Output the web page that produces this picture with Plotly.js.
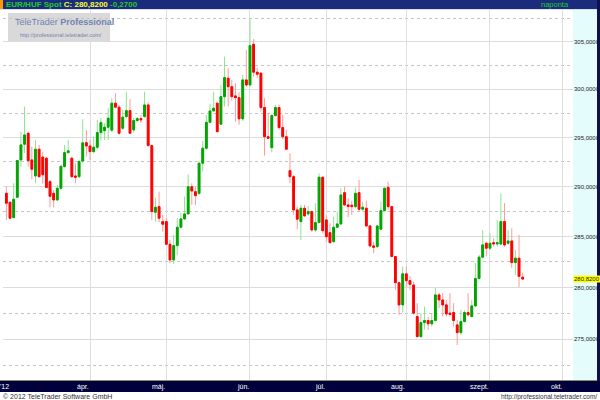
<!DOCTYPE html>
<html><head><meta charset="utf-8">
<script src="https://cdn.plot.ly/plotly-3.0.1.min.js"></script>
<style>html,body{margin:0;padding:0;background:#fff;}#chart{width:600px;height:400px;}</style>
</head><body><div id="chart"></div>
<script>
const dates = ['2012-02-29',
'2012-03-01','2012-03-02','2012-03-05','2012-03-06','2012-03-07','2012-03-08','2012-03-09','2012-03-12','2012-03-13','2012-03-14','2012-03-15','2012-03-16','2012-03-19','2012-03-20','2012-03-21','2012-03-22','2012-03-23','2012-03-26','2012-03-27','2012-03-28','2012-03-29','2012-03-30',
'2012-04-02','2012-04-03','2012-04-04','2012-04-05','2012-04-06','2012-04-09','2012-04-10','2012-04-11','2012-04-12','2012-04-13','2012-04-16','2012-04-17','2012-04-18','2012-04-19','2012-04-20','2012-04-23','2012-04-24','2012-04-25','2012-04-26','2012-04-27','2012-04-30',
'2012-05-01','2012-05-02','2012-05-03','2012-05-04','2012-05-07','2012-05-08','2012-05-09','2012-05-10','2012-05-11','2012-05-14','2012-05-15','2012-05-16','2012-05-17','2012-05-18','2012-05-21','2012-05-22','2012-05-23','2012-05-24','2012-05-25','2012-05-28','2012-05-29','2012-05-30','2012-05-31',
'2012-06-01','2012-06-04','2012-06-05','2012-06-06','2012-06-07','2012-06-08','2012-06-11','2012-06-12','2012-06-13','2012-06-14','2012-06-15','2012-06-18','2012-06-19','2012-06-20','2012-06-21','2012-06-22','2012-06-25','2012-06-26','2012-06-27','2012-06-28','2012-06-29',
'2012-07-02','2012-07-03','2012-07-04','2012-07-05','2012-07-06','2012-07-09','2012-07-10','2012-07-11','2012-07-12','2012-07-13','2012-07-16','2012-07-17','2012-07-18','2012-07-19','2012-07-20','2012-07-23','2012-07-24','2012-07-25','2012-07-26','2012-07-27','2012-07-30','2012-07-31',
'2012-08-01','2012-08-02','2012-08-03','2012-08-06','2012-08-07','2012-08-08','2012-08-09','2012-08-10','2012-08-13','2012-08-14','2012-08-15','2012-08-16','2012-08-17','2012-08-20','2012-08-21','2012-08-22','2012-08-23','2012-08-24','2012-08-27','2012-08-28','2012-08-29','2012-08-30','2012-08-31',
'2012-09-03','2012-09-04','2012-09-05','2012-09-06','2012-09-07','2012-09-10','2012-09-11','2012-09-12','2012-09-13','2012-09-14'];

const openP = [289.33,
288.43,286.89,288.93,292.71,294.31,295.43,292.71,291.08,293.80,293.0,292.88,290.5,289.33,288.66,289.83,292.03,293.45,292.88,291.08,291.01,292.6,294.47,
294.13,293.55,294.0,295.5,295.7,296.06,295.75,298.54,298.13,295.95,297.15,297.77,295.78,296.74,296.95,297.15,298.36,294.17,287.43,287.99,286.49,
286.49,284.24,282.7,284.11,285.93,286.76,287.26,289.99,289.49,289.33,292.37,293.9,296.56,297.74,298.54,296.37,299.22,301.15,300.26,299.3,299.12,296.92,300.97,
300.44,304.73,301.78,301.67,298.09,295.08,293.96,297.26,298.09,296.02,295.08,291.62,291.01,287.66,286.49,287.83,287.26,287.49,285.66,286.39,290.95,
286.66,285.39,284.5,285.93,286.26,289.39,288.16,288.13,287.99,289.39,287.73,287.83,286.06,284.08,284.01,285.73,287.59,289.93,287.99,283.03,280.47,278.31,
281.33,280.67,280.24,277.18,275.25,276.6,276.8,276.48,276.8,279.28,278.79,278.31,277.51,277.57,276.38,275.64,276.7,277.57,277.18,278.21,280.88,282.97,284.34,
283.85,284.4,284.27,284.27,286.49,284.34,284.57,282.44,282.87,281.0];

const highP = [289.99,
288.49,290.34,292.71,295.60,298.19,295.60,294.06,294.75,294.24,293.5,293.05,290.67,289.66,290.16,292.2,294.24,294.75,293.05,292.37,292.71,296.88,295.76,
294.75,295.08,296.81,296.99,296.47,298.02,299.06,299.58,298.36,297.85,299.74,298.95,296.99,297.1,297.32,299.74,298.64,294.24,288.89,289.49,287.16,
286.86,284.67,285.16,286.83,287.36,288.99,291.23,290.34,289.99,292.54,294.64,297.33,298.44,299.74,298.64,300.44,303.42,302.2,300.97,300.62,299.68,301.49,304.13,
307.5,305.28,302.2,301.78,299.06,297.42,297.4,298.36,298.36,297.33,295.78,293.39,291.18,287.99,288.16,288.16,288.06,287.59,288.33,291.35,291.01,
287.16,286.33,286.99,287.49,289.83,289.99,288.83,288.59,289.93,290.67,288.49,288.59,286.16,284.5,286.16,288.49,289.93,290.5,288.06,283.09,280.57,282.04,
282.04,281.13,280.57,278.48,277.51,278.15,277.18,277.51,279.92,279.5,279.44,278.79,279.44,278.48,276.86,277.83,277.77,279.44,278.79,282.38,283.19,285.65,284.5,
285.33,284.83,286.66,289.33,288.33,285.65,285.82,283.69,285.16,281.45];

const lowP = [286.66,
286.73,286.83,288.83,292.03,293.39,292.03,290.74,290.34,290.91,290.3,289.83,287.93,287.93,288.56,289.66,291.9,293.39,290.84,290.34,290.86,292.4,293.05,
292.71,293.39,293.8,294.67,294.75,294.75,295.58,298.02,295.27,295.78,296.99,295.58,295.5,296.64,296.47,297.05,294.06,286.66,286.49,286.43,285.49,
284.18,282.38,282.28,283.19,285.83,286.66,287.23,288.16,288.16,289.16,291.52,293.73,296.47,297.67,295.54,296.29,298.19,298.19,298.78,296.64,296.29,296.71,300.27,
300.27,301.31,301.2,297.67,293.15,294.85,293.49,297.15,295.78,294.85,293.7,290.34,287.16,285.73,284.67,286.99,287.06,285.49,285.49,286.33,285.33,
284.5,284.34,284.4,285.83,286.16,288.06,286.93,287.16,287.83,287.56,287.49,285.93,283.95,283.36,283.85,285.66,287.49,287.66,282.97,279.76,277.35,277.57,
280.05,279.76,277.35,275.25,275.19,275.9,275.9,276.22,276.7,277.99,277.18,277.18,277.18,276.22,274.45,275.41,276.6,277.18,277.12,278.15,280.79,282.87,283.09,
283.68,284.01,284.01,284.17,284.0,284.17,281.89,281.23,280.02,280.74];

const closeP = [288.33,
286.83,288.73,292.64,294.24,295.26,292.64,291.76,293.80,291.01,291.2,289.91,289.03,288.66,289.83,292.05,293.45,293.63,291.01,290.95,292.54,294.45,294.13,
293.55,294.0,295.5,296.53,296.06,296.99,298.54,298.13,295.44,297.09,297.77,295.44,296.74,296.95,296.81,298.36,294.17,287.49,287.93,286.83,286.23,
284.24,282.7,284.11,285.93,286.76,287.26,289.99,289.56,289.09,292.37,293.9,296.56,297.74,298.02,295.6,299.22,301.21,300.26,299.22,299.12,296.92,300.97,300.44,
304.58,301.78,301.57,298.09,295.08,294.92,297.26,298.09,296.02,295.08,293.8,291.01,287.66,286.73,287.83,287.06,287.49,285.66,286.39,290.95,285.59,
284.99,284.4,285.93,286.26,289.16,288.16,287.99,287.99,289.33,287.73,287.93,286.06,284.08,283.95,286.06,287.59,289.83,287.99,283.03,280.47,278.31,281.33,
280.67,280.31,277.51,275.25,276.6,276.8,276.48,276.8,279.28,278.79,278.31,277.44,277.38,276.8,275.64,276.7,277.57,277.35,278.21,280.88,282.97,284.18,283.85,
284.34,284.27,284.4,286.49,284.17,284.57,282.44,282.87,281.09,280.82];

const instrument = 'EUR/HUF Spot';
const periodLabel = 'naponta';
const yTickValues = [275, 280, 285, 290, 295, 300, 305];
const yTickLabels = ['275,0000','280,0000','285,0000','290,0000','295,0000','300,0000','305,0000'];
const yMinorValues = [272.5, 277.5, 282.5, 287.5, 292.5, 297.5, 302.5, 307.5];
const monthTickDates = ['2012-03-01','2012-04-02','2012-05-01','2012-06-01','2012-07-02','2012-08-01','2012-09-03','2012-10-01'];
const monthTickLabels = ["'12",'ápr.','máj.','jún.','júl.','aug.','szept.','okt.'];
const footerLeft = '© 2012 TeleTrader Software GmbH';
const footerRight = 'http://professional.teletrader.com/';

function tradingIndex(d) {
  const start = Date.UTC(2012, 1, 29);
  const t = Date.parse(d + 'T00:00:00Z');
  let n = 0;
  for (let u = start; u < t; u += 86400000) {
    const wd = new Date(u).getUTCDay();
    if (wd !== 0 && wd !== 6) n++;
  }
  return n;
}
const fmt = v => v.toFixed(4).replace('.', ',');
const xs = dates.map(tradingIndex);
const bodyHigh = openP.map((o, i) => Math.max(o, closeP[i]));
const bodyLow = openP.map((o, i) => Math.min(o, closeP[i]));
const n = closeP.length;
const lastClose = closeP[n - 1];
const change = closeP[n - 1] - closeP[n - 2];
const monthIdx = monthTickDates.map(tradingIndex);

// small ruler ticks on the value axes, every half unit
const yRange = [271.13, 308.38];
const rulerTicks = [];
for (let v = Math.ceil(yRange[0] * 2) / 2; v <= yRange[1]; v += 0.5) rulerTicks.push(v);

// pixel helpers for decorations (plot area: x 3..573, y 10..380)
const L = 3, R = 573, T = 10, B = 380;
const px = p => (p - L) / (R - L);
const py = p => (B - p) / (B - T);

const font = 'Liberation Sans, Arial, sans-serif';

const traces = [
  {type: 'candlestick', x: xs, open: openP, high: highP, low: lowP, close: closeP,
   increasing: {line: {color: '#8fe38f', width: 1}, fillcolor: '#8fe38f'},
   decreasing: {line: {color: '#ff9a9a', width: 1}, fillcolor: '#ff9a9a'},
   whiskerwidth: 0, hoverinfo: 'skip', showlegend: false},
  {type: 'candlestick', x: xs, open: openP, high: bodyHigh, low: bodyLow, close: closeP,
   increasing: {line: {color: '#00a400', width: 1}, fillcolor: '#00a400'},
   decreasing: {line: {color: '#ff0000', width: 1}, fillcolor: '#ff0000'},
   whiskerwidth: 0, hoverinfo: 'skip', showlegend: false}
];

const rect = (x0, y0, x1, y1, color, extra) => Object.assign({type: 'rect', xref: 'paper', yref: 'paper',
  x0: px(x0), x1: px(x1), y0: py(y0), y1: py(y1), fillcolor: color, line: {width: 0}, layer: 'above'}, extra || {});

const shapes = [
  rect(0, 0, 600, 9, '#1b2c7c'),
  rect(0, 0, 3, 10, '#ff9900'),
  rect(0, 9, 600, 10, '#d8dcef'),
  rect(573, 10, 597, 380, '#e4fcfc', {layer: 'below'}),
  rect(597, 0, 600, 392, '#101050'),
  rect(0, 381, 600, 392, '#00003c'),
  {type: 'line', xref: 'paper', yref: 'paper', x0: px(0), x1: px(597), y0: py(380.5), y1: py(380.5), line: {color: '#8c8c64', width: 1}},
  rect(8, 13, 110, 42, 'rgba(185,185,185,0.55)', {layer: 'below'})
];

const annotations = [
  {xref: 'paper', yref: 'paper', x: px(4), y: py(4.5), xanchor: 'left', yanchor: 'middle', showarrow: false,
   text: '<b>' + instrument + ' <span style="color:#ffff30">C: ' + fmt(lastClose) + '</span> ' + (change < 0 ? '-' : '+') + fmt(Math.abs(change)) + '</b>',
   font: {family: font, size: 8, color: '#22cc22'}},
  {xref: 'paper', yref: 'paper', x: px(571), y: py(4.5), xanchor: 'right', yanchor: 'middle', showarrow: false,
   text: periodLabel, font: {family: font, size: 7.5, color: '#22cc22'}},
  {xref: 'paper', yref: 'paper', x: px(13), y: py(22), xanchor: 'left', yanchor: 'middle', showarrow: false,
   text: 'TeleTrader <b>Professional</b>', font: {family: font, size: 9, color: '#7283b2'}},
  {xref: 'paper', yref: 'paper', x: px(104), y: py(35), xanchor: 'right', yanchor: 'middle', showarrow: false,
   text: footerRight, font: {family: font, size: 5.5, color: '#7283b2'}},
  {xref: 'paper', yref: 'paper', x: px(1), y: py(396.5), xanchor: 'left', yanchor: 'middle', showarrow: false,
   text: footerLeft, font: {family: font, size: 7, color: '#303030'}},
  {xref: 'paper', yref: 'paper', x: px(599), y: py(396.5), xanchor: 'right', yanchor: 'middle', showarrow: false,
   text: footerRight, font: {family: font, size: 6.5, color: '#303030'}},
  {xref: 'paper', yref: 'y', x: px(573), y: Math.log10(lastClose), xanchor: 'left', yanchor: 'middle', showarrow: false,
   text: fmt(lastClose), bgcolor: '#ffff00', borderpad: 0, font: {family: font, size: 6, color: '#202020'}}
];
monthIdx.forEach((ix, i) => {
  annotations.push({xref: 'x', yref: 'paper', x: ix, y: py(386.5), xanchor: 'right', yanchor: 'middle', showarrow: false,
    text: monthTickLabels[i], xshift: 1, font: {family: font, size: 7, color: '#ffffff'}});
});

const logRange = [Math.log10(yRange[0]), Math.log10(yRange[1])];
const layout = {
  width: 600, height: 400,
  margin: {l: L, r: 600 - R, t: T, b: 400 - B, pad: 0},
  paper_bgcolor: '#ffffff', plot_bgcolor: '#ffffff',
  showlegend: false, boxgap: 0.3,
  xaxis: {range: [-0.93, 155.84], tickmode: 'array', tickvals: monthIdx.slice(1), showticklabels: false,
    showgrid: true, gridcolor: '#dedede', gridwidth: 1, zeroline: false, showline: false, ticks: '',
    rangeslider: {visible: false}, fixedrange: true},
  yaxis: {type: 'log', side: 'right', range: logRange,
    tickmode: 'array', tickvals: yTickValues, ticktext: yTickLabels,
    tickfont: {family: font, size: 6, color: '#202020'}, ticks: '', ticklabelstandoff: 0,
    showgrid: true, gridcolor: '#dcdcdc', gridwidth: 1, zeroline: false, showline: false,
    minor: {tickmode: 'array', tickvals: yMinorValues, showgrid: true, gridcolor: '#c4c4c4', griddash: 'dot', ticks: ''},
    fixedrange: true},
  yaxis2: {type: 'log', overlaying: 'y', side: 'left', range: logRange, tickmode: 'array', tickvals: rulerTicks,
    showticklabels: false, ticks: 'inside', ticklen: 3, tickcolor: '#404040', tickwidth: 1,
    showgrid: false, zeroline: false, showline: false, fixedrange: true},
  yaxis3: {type: 'log', overlaying: 'y', side: 'right', range: logRange, tickmode: 'array', tickvals: rulerTicks,
    showticklabels: false, ticks: 'outside', ticklen: 2, tickcolor: '#707050', tickwidth: 1,
    showgrid: false, zeroline: false, showline: false, fixedrange: true},
  shapes: shapes,
  annotations: annotations
};

Plotly.newPlot('chart', traces, layout, {displayModeBar: false, staticPlot: true});
</script>
</body></html>
